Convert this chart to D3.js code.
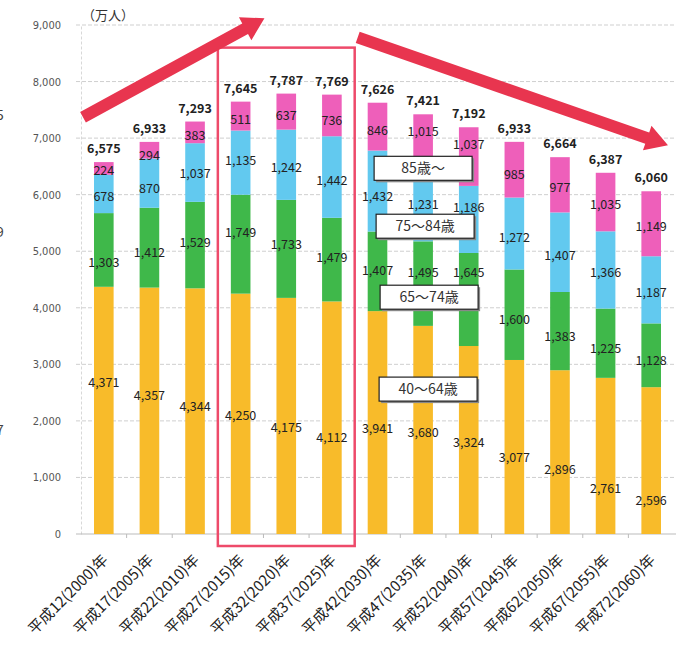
<!DOCTYPE html>
<html>
<head>
<meta charset="utf-8">
<script src="https://cdn.jsdelivr.net/npm/d3@7"></script>
<style>
  body { margin: 0; background: #fff; }
  text { font-family: "Noto Sans CJK JP", "Noto Sans", sans-serif; }
</style>
</head>
<body>
<svg id="chart" width="683" height="646"></svg>
<script>
"use strict";

// categories (x axis)
const years = ["平成12(2000)年", "平成17(2005)年", "平成22(2010)年", "平成27(2015)年",
  "平成32(2020)年", "平成37(2025)年", "平成42(2030)年", "平成47(2035)年",
  "平成52(2040)年", "平成57(2045)年", "平成62(2050)年", "平成67(2055)年", "平成72(2060)年"];

// series, bottom to top (万人)
const age40to64 = [4371, 4357, 4344, 4250, 4175, 4112, 3941, 3680, 3324, 3077, 2896, 2761, 2596];
const age65to74 = [1303, 1412, 1529, 1749, 1733, 1479, 1407, 1495, 1645, 1600, 1383, 1225, 1128];
const age75to84 = [678, 870, 1037, 1135, 1242, 1442, 1432, 1231, 1186, 1272, 1407, 1366, 1187];
const age85plus = [224, 294, 383, 511, 637, 736, 846, 1015, 1037, 985, 977, 1035, 1149];
const totals    = [6575, 6933, 7293, 7645, 7787, 7769, 7626, 7421, 7192, 6933, 6664, 6387, 6060];

const seriesNames = ["40～64歳", "65～74歳", "75～84歳", "85歳～"];
const yTicks = [0, 1000, 2000, 3000, 4000, 5000, 6000, 7000, 8000, 9000];

const colors = ["#f8bb2a", "#3fb84a", "#62c9ef", "#ee5fba"];

// hand-placed label nudges in the original (px, from segment middle)
const labelNudge = [
  [-28, -15, -5, 2, 12, 20, 6, 3, 3, 11, 18, 33, 40],
  [13, 5, -2, -12, -4, -2, -1, -11, -27, 5, 6, 5, 5],
  [3, 5, 1, -2, 3, 4, 6, -2, -12, 4, 3, 3, 3],
  [2, 5, 3, 4, 4, 5, 4, -11, -12, 5, 3, 3, 3]
];

const svg = d3.select("#chart");
const plotLeft = 81, plotRight = 674, plotTop = 25, plotBottom = 534;

const x = d3.scaleBand()
  .domain(years)
  .range([plotLeft, plotRight])
  .paddingInner(0.57)
  .paddingOuter(0.285);
const y = d3.scaleLinear().domain([0, 9000]).range([plotBottom, plotTop]);
const bw = x.bandwidth();
const gap = x.step() - bw;

// build table for stacking
const table = years.map((yr, i) => ({
  year: yr,
  s0: age40to64[i], s1: age65to74[i], s2: age75to84[i], s3: age85plus[i]
}));
const stack = d3.stack().keys(["s0", "s1", "s2", "s3"])(table);

// clipped fragments from neighbouring page content
svg.append("g").selectAll("text")
  .data([[7400, "5"], [5340, "9"], [1840, "7"]])
  .enter().append("text")
  .attr("x", -4).attr("y", d => y(d[0]) + 5)
  .attr("font-size", 14).attr("fill", "#444")
  .text(d => d[1]);

// gridlines
svg.append("g").selectAll("line")
  .data(yTicks.slice(1))
  .enter().append("line")
  .attr("x1", plotLeft - 5).attr("x2", plotRight + 2)
  .attr("y1", d => y(d)).attr("y2", d => y(d))
  .attr("stroke", "#cfcfcf")
  .attr("stroke-dasharray", "4,2");

// y axis
const yAxis = svg.append("g")
  .attr("transform", `translate(${plotLeft},0)`)
  .call(d3.axisLeft(y).tickValues(yTicks).tickFormat(d3.format(",")).tickSize(0).tickPadding(20));
yAxis.select(".domain").attr("stroke", "#d8d8d8").attr("stroke-dasharray", "3,2");
yAxis.selectAll("text").attr("font-size", 11).attr("fill", "#555")
  .style("font-family", "'DejaVu Sans Condensed', 'Noto Sans', sans-serif");

// x axis line + ticks between bands
svg.append("line")
  .attr("x1", plotLeft - 5).attr("x2", plotRight + 2)
  .attr("y1", plotBottom).attr("y2", plotBottom)
  .attr("stroke", "#bbb");
svg.append("g").selectAll("line")
  .data(years.slice(1))
  .enter().append("line")
  .attr("x1", d => x(d) - gap / 2).attr("x2", d => x(d) - gap / 2)
  .attr("y1", plotBottom).attr("y2", plotBottom + 4)
  .attr("stroke", "#bbb");

// bars
const layers = svg.append("g").selectAll("g")
  .data(stack)
  .enter().append("g")
  .attr("fill", (d, i) => colors[i]);
layers.selectAll("rect")
  .data(d => d)
  .enter().append("rect")
  .attr("x", d => x(d.data.year))
  .attr("width", bw)
  .attr("y", d => y(d[1]))
  .attr("height", d => y(d[0]) - y(d[1]));

// segment labels
const fmt = d3.format(",");
svg.append("g").selectAll("g")
  .data(stack)
  .enter().append("g")
  .each(function(layer, si) {
    d3.select(this).selectAll("text")
      .data(layer)
      .enter().append("text")
      .attr("x", d => x(d.data.year) + bw / 2)
      .attr("y", (d, i) => (y(d[0]) + y(d[1])) / 2 + labelNudge[si][i])
      .attr("dy", "0.35em")
      .attr("text-anchor", "middle")
      .attr("font-size", 12.5)
      .attr("fill", "#222")
      .text(d => fmt(d[1] - d[0]));
  });

// totals
svg.append("g").selectAll("text")
  .data(totals)
  .enter().append("text")
  .attr("x", (d, i) => x(years[i]) + bw / 2)
  .attr("y", d => y(d) - 9)
  .attr("text-anchor", "middle")
  .attr("font-size", 12.5)
  .attr("font-weight", "bold")
  .attr("fill", "#222")
  .text(d => fmt(d));

// x labels
svg.append("g").selectAll("text")
  .data(years)
  .enter().append("text")
  .attr("transform", d => `translate(${x(d) + bw / 2 + 5},${plotBottom + 27}) rotate(-45)`)
  .attr("text-anchor", "end")
  .attr("font-size", 15)
  .attr("fill", "#222")
  .text(d => d);

// unit label
svg.append("text")
  .attr("x", plotLeft + 1).attr("y", 20)
  .attr("font-size", 13).attr("fill", "#333")
  .text("（万人）");

// highlight box round 2015-2025
svg.append("rect")
  .attr("x", x(years[3]) - gap / 2)
  .attr("y", y(8600))
  .attr("width", x(years[5]) + bw + gap / 2 - (x(years[3]) - gap / 2))
  .attr("height", plotBottom + 12 - y(8600))
  .attr("fill", "none")
  .attr("stroke", "#ee4a6a")
  .attr("stroke-width", 2.5);

// arrows
function arrow(x1, y1, x2, y2) {
  const ang = Math.atan2(y2 - y1, x2 - x1);
  const len = Math.hypot(x2 - x1, y2 - y1);
  const w = 6, hl = 22, hw = 13;
  const pts = [[0, -w], [len - hl, -w], [len - hl, -hw], [len, 0], [len - hl, hw], [len - hl, w], [0, w]];
  svg.append("polygon")
    .attr("points", pts.map(p => p.join(",")).join(" "))
    .attr("transform", `translate(${x1},${y1}) rotate(${ang * 180 / Math.PI})`)
    .attr("fill", "#e8354f");
}
arrow(plotLeft + 2, y(7370), x(years[4]) - 12, y(9120));
arrow(x(years[6]) - 10, y(8780), x(years[12]) + bw + 7, y(6873));

// legend boxes
const legendPos = [[2562, 5], [4187, 6], [5442, 2], [6466, 0]];
const lg = svg.append("g").selectAll("g")
  .data(seriesNames)
  .enter().append("g")
  .attr("transform", (d, i) => `translate(${x(years[7]) + bw / 2 + legendPos[i][1]},${y(legendPos[i][0])})`);
lg.append("rect")
  .attr("x", -47).attr("y", -10).attr("width", 98).attr("height", 24)
  .attr("fill", "#888");
lg.append("rect")
  .attr("x", -49).attr("y", -12).attr("width", 98).attr("height", 24)
  .attr("fill", "#fff").attr("stroke", "#222").attr("stroke-width", 1.2);
lg.append("text")
  .attr("y", 0).attr("dy", "0.36em")
  .attr("text-anchor", "middle")
  .attr("font-size", 14)
  .attr("fill", "#333")
  .text(d => d);
</script>
</body>
</html>
